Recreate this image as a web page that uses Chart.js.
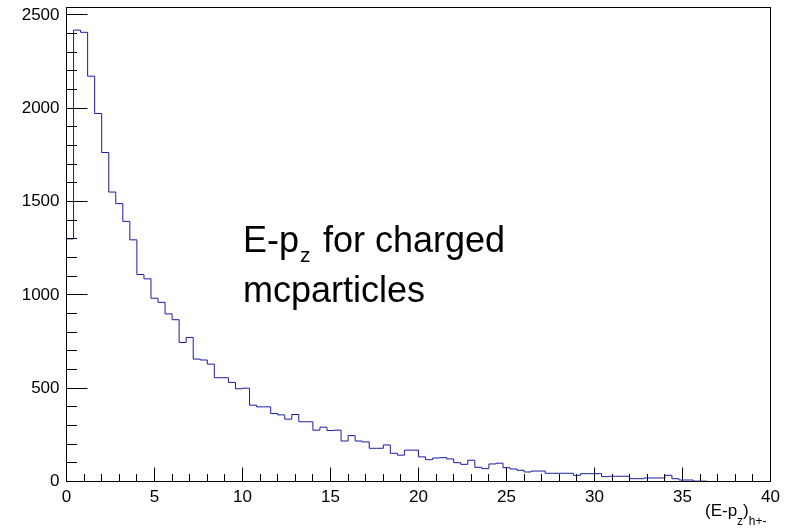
<!DOCTYPE html>
<html>
<head>
<meta charset="utf-8">
<script src="https://cdn.jsdelivr.net/npm/chart.js@4.4.0/dist/chart.umd.min.js"></script>
<style>
	body { margin: 0; background: #fff; }
	canvas { display: block; }
</style>
</head>
<body>
<canvas id="c" width="792" height="529"></canvas>
<script>
// histogram: 100 bins of 0.4 from 0 to 40
const binWidth = 0.4;
const xRange = [0, 40];
const yRange = [0, 2540];
const xTickValues = [0, 5, 10, 15, 20, 25, 30, 35, 40];
const yTickValues = [0, 500, 1000, 1500, 2000, 2500];
const counts = [
	1300, 2419, 2407, 2172, 1972, 1763, 1551, 1489, 1394, 1295,
	1109, 1086, 982, 960, 898, 867, 745, 772, 656, 651,
	629, 556, 556, 531, 497, 500, 409, 400, 400, 364,
	357, 334, 359, 320, 320, 275, 291, 273, 275, 217,
	246, 217, 212, 178, 178, 196, 151, 141, 168, 168,
	132, 117, 126, 128, 121, 101, 92, 114, 76, 69,
	94, 98, 74, 67, 60, 51, 56, 56, 44, 44,
	44, 44, 33, 42, 42, 42, 26, 28, 28, 28,
	15, 15, 19, 19, 19, 33, 15, 8, 8, 2,
	2, 0, 0, 0, 0, 0, 0, 0, 0, 0
];
const labelLines = ['for charged', 'mcparticles'];

const points = counts.map((c, i) => ({x: xRange[0] + i * binWidth, y: c}));
points.push({x: xRange[1], y: counts[counts.length - 1]});

const rootFrame = {
	id: 'rootFrame',
	afterDraw(chart) {
		const {ctx, chartArea: a, scales: {x, y}} = chart;
		ctx.save();
		ctx.strokeStyle = '#000';
		ctx.lineWidth = 1;
		ctx.beginPath();
		for (let v = 0; v <= yRange[1]; v += 100) {
			const py = Math.round(y.getPixelForValue(v) - 0.5) + 0.5;
			const len = v % 500 === 0 ? 21 : 10.5;
			ctx.moveTo(a.left, py);
			ctx.lineTo(a.left + len, py);
		}
		for (let v = 0; v <= xRange[1]; v += 1) {
			const px = Math.round(x.getPixelForValue(v) - 0.5) + 0.5;
			const len = v % 5 === 0 ? 14 : 7.5;
			ctx.moveTo(px, a.bottom);
			ctx.lineTo(px, a.bottom - len);
		}
		ctx.stroke();
		ctx.strokeRect(a.left, a.top, a.right - a.left, a.bottom - a.top);

		// text in the pad
		ctx.fillStyle = '#000';
		ctx.textBaseline = 'alphabetic';
		ctx.textAlign = 'left';
		ctx.font = '36px "Liberation Sans", Arial, sans-serif';
		ctx.fillText('E-p', 243, 252);
		let w = ctx.measureText('E-p').width;
		ctx.font = '21px "Liberation Sans", Arial, sans-serif';
		ctx.fillText('z', 243 + w + 1, 262);
		ctx.font = '36px "Liberation Sans", Arial, sans-serif';
		ctx.fillText(labelLines[0], 323, 252);
		ctx.fillText(labelLines[1], 243, 302);

		// x axis title (E-p_z)_h+-
		let tx = 705;
		ctx.font = '17px "Liberation Sans", Arial, sans-serif';
		ctx.fillText('(E-p', tx, 516);
		tx += ctx.measureText('(E-p').width;
		ctx.font = '12px "Liberation Sans", Arial, sans-serif';
		ctx.fillText('z', tx, 525);
		tx += ctx.measureText('z').width;
		ctx.font = '17px "Liberation Sans", Arial, sans-serif';
		ctx.fillText(')', tx, 516);
		tx += ctx.measureText(')').width;
		ctx.font = '12px "Liberation Sans", Arial, sans-serif';
		ctx.fillText('h+-', tx, 525);
		ctx.restore();
	}
};

new Chart(document.getElementById('c'), {
	type: 'line',
	data: {
		datasets: [{
			data: points,
			stepped: true,
			borderColor: '#1a1aa6',
			borderWidth: 1,
			pointRadius: 0,
			fill: false
		}]
	},
	options: {
		responsive: false,
		animation: false,
		layout: {
			padding: {top: 7.5, right: 21.5, left: 0, bottom: 0}
		},
		plugins: {
			legend: {display: false},
			tooltip: {enabled: false}
		},
		scales: {
			x: {
				type: 'linear',
				min: xRange[0],
				max: xRange[1],
				grid: {display: false, drawTicks: false},
				border: {display: false},
				afterBuildTicks: (scale) => { scale.ticks = xTickValues.map(v => ({value: v})); },
				ticks: {
					padding: 6,
					color: '#000',
					maxRotation: 0,
					callback: (v) => String(v),
					font: {family: '"Liberation Sans", Arial, sans-serif', size: 17}
				},
				afterFit: (scale) => {
					scale.height = 47.5;
					scale.paddingLeft = 0;
					scale.paddingRight = 0;
				}
			},
			y: {
				min: yRange[0],
				max: yRange[1],
				grid: {display: false, drawTicks: false},
				border: {display: false},
				afterBuildTicks: (scale) => { scale.ticks = yTickValues.map(v => ({value: v})); },
				ticks: {
					padding: 7,
					color: '#000',
					callback: (v) => String(v),
					font: {family: '"Liberation Sans", Arial, sans-serif', size: 17}
				},
				afterFit: (scale) => {
					scale.width = 66.5;
					scale.paddingTop = 0;
					scale.paddingBottom = 0;
				}
			}
		}
	},
	plugins: [rootFrame]
});
</script>
</body>
</html>
